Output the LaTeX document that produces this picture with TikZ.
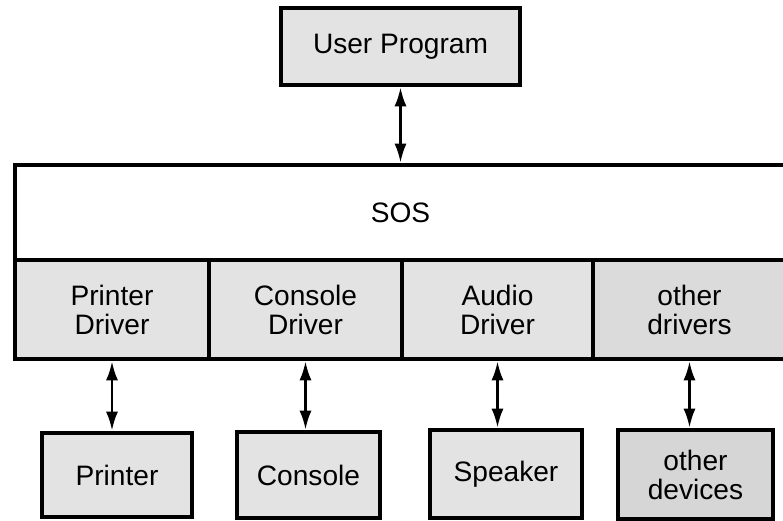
\documentclass[tikz,border=0pt]{standalone}
\usepackage{fontspec}
\setmainfont{Liberation Sans}
\usetikzlibrary{arrows.meta}
\tikzset{
  box/.style={draw, line width=2.6pt, fill=gray!22, align=center, inner sep=0pt,
    font=\fontsize{16}{16.5}\selectfont},
  darkbox/.style={box, fill=gray!32},
  cell/.style={box, minimum height=1.98cm},
  link/.style={line width=1.5pt,
    {Latex[length=0.38cm,width=0.24cm]}-{Latex[length=0.38cm,width=0.24cm]}}
}
\begin{document}
\begin{tikzpicture}
\useasboundingbox (0,0) rectangle (15.66,10.42);
\clip (0,0) rectangle (15.66,10.42);

% program and system layer
\node[box, minimum width=4.78cm, minimum height=1.54cm] (user) at (8.01,9.49) {User Program};
\node[box, fill=white, minimum width=15.42cm, minimum height=1.9cm] (sos) at (8.01,6.17) {SOS};

% drivers
\node[cell, minimum width=3.88cm] (prdrv) at (2.24,4.23) {Printer\\Driver};
\node[cell, minimum width=3.86cm] (condrv) at (6.11,4.23) {Console\\Driver};
\node[cell, minimum width=3.82cm] (auddrv) at (9.95,4.23) {Audio\\Driver};
\node[cell, minimum width=3.86cm, fill=gray!28] (othdrv) at (13.79,4.23) {other\\drivers};

% devices
\node[box, minimum width=3.0cm, minimum height=1.68cm] (printer) at (2.34,0.92) {Printer};
\node[box, minimum width=2.86cm, minimum height=1.72cm] (console) at (6.17,0.92) {Console};
\node[box, minimum width=3.04cm, minimum height=1.76cm] (speaker) at (10.12,0.94) {Speaker};
\node[darkbox, minimum width=3.1cm, minimum height=1.78cm] (othdev) at (13.91,0.93) {other\\devices};

\path[link]
    (user.south) edge (sos.north)
    (prdrv.south) edge (prdrv.south |- printer.north)
    (condrv.south) edge (condrv.south |- console.north)
    (auddrv.south) edge (auddrv.south |- speaker.north)
    (othdrv.south) edge (othdrv.south |- othdev.north);
\end{tikzpicture}
\end{document}
